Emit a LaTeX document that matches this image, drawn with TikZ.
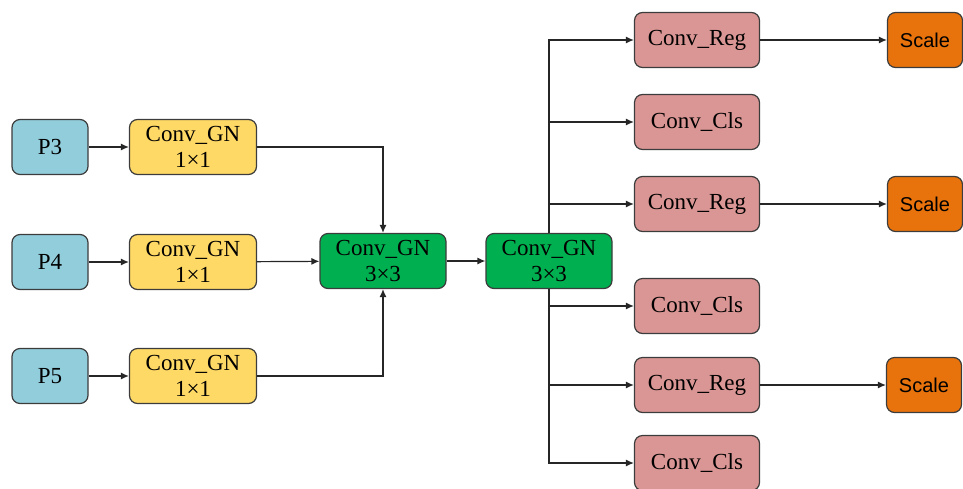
\documentclass[tikz,border=0pt]{standalone}
\usepackage{fontspec}
\setmainfont{Liberation Serif}
\newfontfamily\sansf{Liberation Sans}
\usetikzlibrary{arrows.meta}
\definecolor{pblue}{HTML}{92CDDC}
\definecolor{pyellow}{HTML}{FFD966}
\definecolor{pgreen}{HTML}{00B050}
\definecolor{ppink}{HTML}{DA9694}
\definecolor{porange}{HTML}{E8720C}
\definecolor{bord}{HTML}{3C3C3C}
\tikzset{
  box/.style={draw=bord, line width=1.2pt, rounded corners=8pt, minimum height=55pt, inner sep=0pt, align=center,
    font=\fontsize{23}{26}\selectfont},
  pbox/.style={box, fill=pblue, minimum width=76pt},
  ybox/.style={box, fill=pyellow, minimum width=127pt},
  gbox/.style={box, fill=pgreen, minimum width=126pt},
  kbox/.style={box, fill=ppink, minimum width=125pt},
  obox/.style={box, fill=porange, minimum width=75pt, font=\sansf\fontsize{20}{24}\selectfont},
  arr/.style={line width=1.2pt, draw=black!85, -{Latex[length=8pt,width=7pt]}},
}
\begin{document}
\begin{tikzpicture}[x=1pt,y=-1pt]
\useasboundingbox (0,0) rectangle (963,488);
\node[pbox] (p3) at (50,147) {P3};
\node[pbox] (p4) at (50,262) {P4};
\node[pbox] (p5) at (50,376) {P5};
\node[ybox] (c3) at (193,147) {Conv\_GN\\1×1};
\node[ybox] (c4) at (193,262) {Conv\_GN\\1×1};
\node[ybox] (c5) at (193,376) {Conv\_GN\\1×1};
\node[gbox] (g1) at (383,261) {Conv\_GN\\3×3};
\node[gbox] (g2) at (549,261) {Conv\_GN\\3×3};
\node[kbox] (r1) at (697,40) {Conv\_Reg};
\node[kbox] (k1) at (697,122) {Conv\_Cls};
\node[kbox] (r2) at (697,204) {Conv\_Reg};
\node[kbox] (k2) at (697,306) {Conv\_Cls};
\node[kbox] (r3) at (697,385) {Conv\_Reg};
\node[kbox] (k3) at (697,463) {Conv\_Cls};
\node[obox] (s1) at (925,40) {Scale};
\node[obox] (s2) at (925,204) {Scale};
\node[obox] (s3) at (924,385) {Scale};
\draw[arr] (p3) -- (c3);
\draw[arr] (p4) -- (c4);
\draw[arr] (p5) -- (c5);
\draw[arr] (c3.east) -| (g1.north);
\draw[arr] (c4) -- (g1);
\draw[arr] (c5.east) -| (g1.south);
\draw[arr] (g1) -- (g2);
\draw[arr] (g2.north) |- (r1.west);
\draw[arr] (g2.north) |- (k1.west);
\draw[arr] (g2.north) |- (r2.west);
\draw[arr] (g2.south) |- (k2.west);
\draw[arr] (g2.south) |- (r3.west);
\draw[arr] (g2.south) |- (k3.west);
\draw[arr] (r1) -- (s1);
\draw[arr] (r2) -- (s2);
\draw[arr] (r3) -- (s3);
\end{tikzpicture}
\end{document}
